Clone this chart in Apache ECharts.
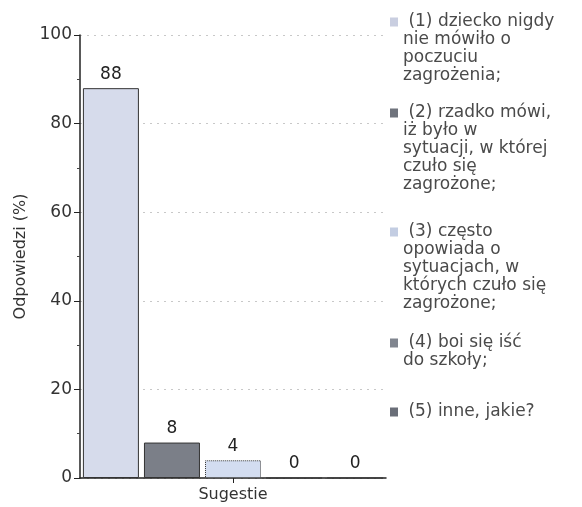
<!DOCTYPE html>
<html>
<head>
<meta charset="utf-8">
<script src="https://cdn.jsdelivr.net/npm/echarts@6/dist/echarts.min.js"></script>
<style>html,body{margin:0;padding:0;background:#fff}#c{width:582px;height:507px}</style>
</head>
<body>
<div id="c"></div>
<script>
const categories = ['Sugestie'];
const seriesNames = [
  ' (1) dziecko nigdy\nnie mówiło o\npoczuciu\nzagrożenia;',
  ' (2) rzadko mówi,\niż było w\nsytuacji, w której\nczuło się\nzagrożone;',
  ' (3) często\nopowiada o\nsytuacjach, w\nktórych czuło się\nzagrożone;',
  ' (4) boi się iść\ndo szkoły;',
  ' (5) inne, jakie?'
];
const seriesValues = [88, 8, 4, 0, 0];
const yTicks = [0, 20, 40, 60, 80, 100];
const barColors = ['#d6dbeb', '#7b7f88', '#d3ddf0', '#8a8e98', '#6e727c'];
const legendIconColors = ['#c9cee0', '#6f737c', '#c3cde2', '#80858f', '#6a6e78'];
const legendCenters = [22, 113, 232, 343, 412];

const LH = 18;
const font = 'DejaVu Sans';

const legends = seriesNames.map((name, i) => {
  const n = name.split('\n').length;
  const H = LH * n - 9;
  const iconPath = 'path://M0,0h8v9h-8z' + (H > 9 ? ('M0,' + (H - 0.01) + 'h0.01v0.01h-0.01z') : '');
  return {
    data: [{name: name, icon: iconPath, itemStyle: {color: legendIconColors[i], borderWidth: 0}}],
    left: 390,
    top: legendCenters[i] - 9,
    orient: 'vertical',
    padding: 0,
    itemWidth: 8,
    itemHeight: H,
    selectedMode: false,
    textStyle: {
      fontFamily: font,
      fontSize: 17,
      lineHeight: LH,
      color: '#4a4a4a'
    }
  };
});

const series = seriesNames.map((name, i) => ({
  name: name,
  type: 'bar',
  data: [seriesValues[i]],
  barWidth: 56,
  barGap: '9%',
  itemStyle: {
    color: barColors[i],
    borderColor: '#333',
    borderWidth: 1,
    borderType: i === 2 || i > 2 ? 'dotted' : 'solid'
  },
  label: {
    show: true,
    position: 'top',
    distance: 5,
    fontFamily: font,
    fontSize: 17,
    color: '#222'
  }
}));

const chart = echarts.init(document.getElementById('c'), null, {renderer: 'canvas'});
chart.setOption({
  animation: false,
  backgroundColor: '#fff',
  grid: {left: 80, top: 35, width: 306, bottom: 29, containLabel: false},
  legend: legends,
  xAxis: {
    type: 'category',
    data: categories,
    axisLine: {lineStyle: {color: '#222', width: 1.5}},
    axisTick: {show: true, alignWithLabel: true, length: 5, lineStyle: {color: '#222'}},
    axisLabel: {fontFamily: font, fontSize: 16, color: '#333', margin: 9}
  },
  yAxis: {
    type: 'value',
    min: yTicks[0],
    max: yTicks[yTicks.length - 1],
    interval: 20,
    name: 'Odpowiedzi (%)',
    nameLocation: 'middle',
    nameGap: 50,
    nameTextStyle: {fontFamily: font, fontSize: 16, color: '#333'},
    axisLine: {show: true, lineStyle: {color: '#222', width: 1.5}},
    axisTick: {show: true, length: 6, lineStyle: {color: '#222'}},
    minorTick: {show: true, splitNumber: 2, length: 3, lineStyle: {color: '#444'}},
    axisLabel: {fontFamily: font, fontSize: 17, color: '#333', margin: 8},
    splitLine: {show: true, lineStyle: {color: '#c8c8c8', type: [2, 5], width: 1}}
  },
  series: series
});
</script>
</body>
</html>
